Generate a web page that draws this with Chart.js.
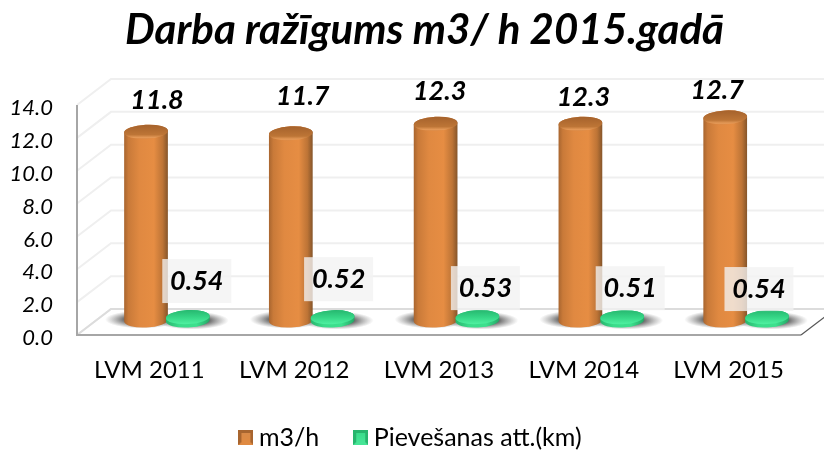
<!DOCTYPE html>
<html>
<head>
<meta charset="utf-8">
<style>
  html, body { margin: 0; padding: 0; background: #fff; }
  #wrap { width: 824px; height: 450px; overflow: hidden; }
</style>
<script src="https://cdn.jsdelivr.net/npm/chart.js@4"></script>
</head>
<body>
<div id="wrap"><canvas id="chart" width="824" height="450"></canvas></div>
<script>
const titleText = "Darba ražīgums m3/ h 2015.gadā";
const categories = ["LVM 2011", "LVM 2012", "LVM 2013", "LVM 2014", "LVM 2015"];
const m3hValues = [11.8, 11.7, 12.3, 12.3, 12.7];
const kmValues = [0.54, 0.52, 0.53, 0.51, 0.54];
const m3hText = ["11.8", "11.7", "12.3", "12.3", "12.7"];
const kmText = ["0.54", "0.52", "0.53", "0.51", "0.54"];

// hand placed data labels in the original, offsets from the top of each cylinder
const m3hLabelDx = [11, 12, 4, 3, -8];
const m3hLabelDy = [-31, -37, -32, -26, -27];
const kmLabelDx = [9, 6, 8, 8, -8];
const kmLabelDy = [-36, -38, -29, -29, -28];

// fake 3D: wall depth in pixels, and where bars stand on the floor
const DEPTH_X = 34, DEPTH_Y = 26;
const BAR_DX = 17.5, BAR_DY = -14.5;
const PLOT_BOTTOM = 335;
const FONT = "Lato, Carlito, sans-serif";

function bevelSwatch(light, mid, dark) {
    const c = document.createElement("canvas");
    c.width = c.height = 15;
    const g = c.getContext("2d");
    g.fillStyle = dark;
    g.fillRect(0, 0, 15, 15);
    g.fillStyle = light;
    g.beginPath(); g.moveTo(0, 15); g.lineTo(15, 15); g.lineTo(12, 12); g.lineTo(3, 12); g.fill();
    const grad = g.createLinearGradient(0, 3, 0, 12);
    grad.addColorStop(0, mid);
    grad.addColorStop(1, light);
    g.fillStyle = grad;
    g.fillRect(3, 3, 9, 9);
    return c;
}

function groundShadow(ctx, cx, cy, rx, ry) {
    ctx.save();
    ctx.translate(cx, cy);
    ctx.scale(1, ry / rx);
    const g = ctx.createRadialGradient(0, 0, rx * 0.45, 0, 0, rx);
    g.addColorStop(0, "rgba(70,70,70,0.85)");
    g.addColorStop(1, "rgba(120,120,120,0)");
    ctx.fillStyle = g;
    ctx.beginPath();
    ctx.arc(0, 0, rx, 0, Math.PI * 2);
    ctx.fill();
    ctx.restore();
}

function cylinder(ctx, cx, topY, baseY, rx, ry, side, topStops) {
    const tilt = -0.05;
    const g = ctx.createLinearGradient(cx - rx, 0, cx + rx, 0);
    side.forEach(([p, col]) => g.addColorStop(p, col));
    ctx.fillStyle = g;
    ctx.beginPath();
    ctx.ellipse(cx, baseY, rx, ry, tilt, Math.PI, 0, true);
    ctx.ellipse(cx, topY, rx, ry, tilt, 0, Math.PI, true);
    ctx.closePath();
    ctx.fill();

    const t = ctx.createLinearGradient(0, topY - ry, 0, topY + ry);
    topStops.forEach(([p, col]) => t.addColorStop(p, col));
    ctx.fillStyle = t;
    ctx.beginPath();
    ctx.ellipse(cx, topY, rx, ry, tilt, 0, Math.PI * 2);
    ctx.fill();
}

const orangeSide = [[0, "#a8652f"], [0.1, "#c97a39"], [0.35, "#e08941"], [0.68, "#e68d43"], [0.88, "#bd7436"], [1, "#85552a"]];
const orangeTop = [[0, "#a5622c"], [0.7, "#bd7536"], [0.92, "#e59a58"], [1, "#d98a48"]];
const greenSide = [[0, "#27b56d"], [0.3, "#3bdc8b"], [0.7, "#3de08e"], [1, "#24a866"]];
const greenTop = [[0, "#27b870"], [0.5, "#35d585"], [1, "#4ff0a0"]];

const frame3d = {
    id: "frame3d",
    afterLayout(chart) {
        // title and legend are not centred on the plot in the original
        const { titleBlock, legend } = chart;
        titleBlock.left += 24; titleBlock.right += 24;
        legend.left += 13; legend.right += 13;
        legend.top = 384;
    },
    beforeDatasetsDraw(chart) {
        const { ctx, chartArea: a, scales: { y } } = chart;
        ctx.save();
        ctx.lineWidth = 2;
        ctx.strokeStyle = "#efefef";
        y.ticks.forEach((t) => {
            const py = y.getPixelForValue(t.value);
            ctx.beginPath();
            ctx.moveTo(a.left, py);
            ctx.lineTo(a.left + DEPTH_X, py - DEPTH_Y);
            ctx.lineTo(a.right + DEPTH_X, py - DEPTH_Y);
            ctx.stroke();
        });
        // back edge of the floor is a bit darker than the grid
        ctx.strokeStyle = "#dcdcdc";
        ctx.beginPath();
        ctx.moveTo(a.left, a.bottom);
        ctx.lineTo(a.left + DEPTH_X, a.bottom - DEPTH_Y);
        ctx.lineTo(a.right + DEPTH_X, a.bottom - DEPTH_Y);
        ctx.stroke();

        ctx.strokeStyle = "#a6a6a6";
        ctx.beginPath();
        ctx.moveTo(a.left, a.top);
        ctx.lineTo(a.left, a.bottom);
        ctx.lineTo(a.right, a.bottom);
        ctx.stroke();
        ctx.lineWidth = 1.2;
        ctx.strokeStyle = "#555";
        ctx.beginPath();
        ctx.moveTo(a.right, a.bottom);
        ctx.lineTo(a.right + DEPTH_X, a.bottom - DEPTH_Y);
        ctx.stroke();
        ctx.restore();
    },
    afterDatasetsDraw(chart) {
        const { ctx } = chart;
        const orange = chart.getDatasetMeta(0).data;
        const green = chart.getDatasetMeta(1).data;
        const ry = 7;
        ctx.save();
        orange.forEach((bar) => {
            groundShadow(ctx, bar.x + BAR_DX - 4, bar.base + BAR_DY - 1, 37, 9);
        });
        green.forEach((bar) => {
            groundShadow(ctx, bar.x + BAR_DX + 4, bar.base + BAR_DY, 37, 9);
        });
        orange.forEach((bar) => {
            cylinder(ctx, bar.x + BAR_DX, bar.y + BAR_DY, bar.base + BAR_DY, bar.width / 2 + 1, ry, orangeSide, orangeTop);
        });
        green.forEach((bar) => {
            cylinder(ctx, bar.x + BAR_DX, bar.y + BAR_DY, bar.base + BAR_DY, bar.width / 2 + 1, ry, greenSide, greenTop);
        });

        ctx.textAlign = "center";
        ctx.textBaseline = "middle";
        ctx.font = "italic bold 27px " + FONT;
        ctx.fillStyle = "#000";
        orange.forEach((bar, i) => {
            ctx.fillText(m3hText[i], bar.x + BAR_DX + m3hLabelDx[i], bar.y + BAR_DY + m3hLabelDy[i]);
        });
        green.forEach((bar, i) => {
            const lx = bar.x + BAR_DX + kmLabelDx[i], ly = bar.y + BAR_DY + kmLabelDy[i];
            ctx.fillStyle = "rgba(242,242,242,0.78)";
            ctx.fillRect(lx - 34.5, ly - 22, 69, 44);
            ctx.fillStyle = "#000";
            ctx.fillText(kmText[i], lx, ly);
        });
        ctx.restore();
    },
};

new Chart(document.getElementById("chart"), {
    type: "bar",
    data: {
        labels: categories,
        datasets: [
            { label: "m3/h", data: m3hValues, yAxisID: "yOrange", backgroundColor: "transparent" },
            { label: "Pievešanas att.(km)", data: kmValues, yAxisID: "yGreen", backgroundColor: "transparent" },
        ],
    },
    options: {
        responsive: false,
        animation: false,
        // negative bottom padding leaves room for the x labels, the legend is moved up in afterLayout
        layout: { padding: { left: 0, right: 23, top: 0, bottom: -40 } },
        datasets: { bar: { categoryPercentage: 0.577, barPercentage: 1 } },
        scales: {
            x: {
                grid: { display: false },
                border: { display: false },
                afterFit: (s) => { s.height = 450 + 40 - PLOT_BOTTOM - s.chart.legend.height; },
                ticks: {
                    padding: 13,
                    color: "#000",
                    font: { family: FONT, size: 24 },
                    maxRotation: 0,
                },
            },
            y: {
                min: 0,
                max: 14,
                grid: { display: false },
                border: { display: false },
                afterFit: (s) => { s.width = 77; },
                ticks: {
                    stepSize: 2,
                    padding: 16,
                    labelOffset: 3,
                    color: "#000",
                    font: { family: FONT, size: 22, style: "italic" },
                    callback: (v) => v.toFixed(1),
                },
            },
            // bars sit inside the depth of the box, so they run a bit shorter than the front axis
            yOrange: { display: false, min: 0, max: 14.38 },
            // the flat discs are squashed by the perspective
            yGreen: { display: false, min: 0, max: 36 },
        },
        plugins: {
            tooltip: { enabled: false },
            title: {
                display: true,
                text: titleText,
                color: "#000",
                padding: { top: 5, bottom: 49.6 },
                font: { family: FONT, size: 42, weight: "bold", style: "italic", lineHeight: 1.2 },
            },
            legend: {
                position: "bottom",
                labels: {
                    usePointStyle: true,
                    boxWidth: 1,
                    boxHeight: 15,
                    padding: 41,
                    color: "#000",
                    font: { family: FONT, size: 25 },
                    generateLabels: () => [
                        { text: "m3/h", datasetIndex: 0, pointStyle: bevelSwatch("#e08a42", "#d98a48", "#a8652f"), fontColor: "#000" },
                        { text: "Pievešanas att.(km)", datasetIndex: 1, pointStyle: bevelSwatch("#46e596", "#3bdc8b", "#27b56d"), fontColor: "#000" },
                    ],
                },
            },
        },
    },
    plugins: [frame3d],
});
</script>
</body>
</html>
